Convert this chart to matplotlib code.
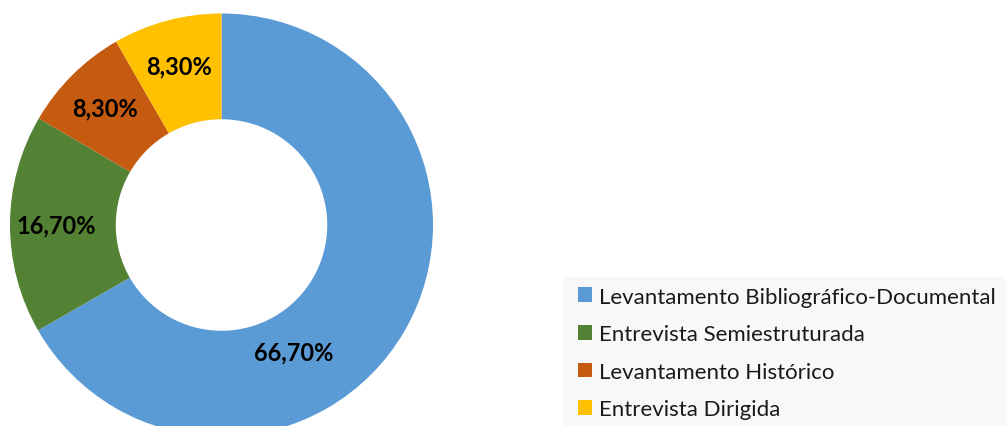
import matplotlib
matplotlib.use("Agg")
import matplotlib.pyplot as plt
from matplotlib.patches import Rectangle
import numpy as np

categories = ["Levantamento Bibliográfico-Documental", "Entrevista Semiestruturada",
              "Levantamento Histórico", "Entrevista Dirigida"]
values = [66.7, 16.7, 8.3, 8.3]
colors = ["#5B9BD5", "#548235", "#C55A11", "#FFC000"]

W, H = 1006, 427
fig = plt.figure(figsize=(W / 100, H / 100), dpi=100)
fig.patch.set_facecolor("white")

cx, cy, R = 221.5, 226.0, 211.5
ax = fig.add_axes([(cx - R) / W, (H - (cy + R)) / H, 2 * R / W, 2 * R / H])

wedges, texts, autotexts = ax.pie(
    values, colors=colors, startangle=90, counterclock=False, radius=1.0,
    wedgeprops=dict(width=0.5, edgecolor="none"),
    autopct=lambda p: f"{p:.2f}%".replace(".", ","), pctdistance=0.78,
    textprops=dict(fontsize=17, fontweight="bold", color="black", family="Lato"))
ax.set_xlim(-1, 1)
ax.set_ylim(-1, 1)
ax.set_aspect("auto")
ax.axis("off")
for t in autotexts:
    t.set_va("center")
# large slice label placed like the original
ang = np.deg2rad(-60.4)
autotexts[0].set_position((0.69 * np.cos(ang), 0.69 * np.sin(ang)))

# legend background
fig.patches.append(Rectangle((563 / W, 0), (W - 563) / W, (H - 278) / H,
                             transform=fig.transFigure, facecolor="#f8f8f8",
                             edgecolor="none", zorder=0))

leg = fig.legend(wedges, categories, loc="center left",
                 bbox_to_anchor=(578 / W, (H - 354) / H),
                 frameon=False,
                 handlelength=0.65, handleheight=0.65, handletextpad=0.3,
                 labelspacing=0.79, borderpad=0, borderaxespad=0,
                 prop=dict(family="Lato", size=16))
for t in leg.get_texts():
    t.set_color("#1a1a1a")

fig.savefig("out.png", dpi=100)
